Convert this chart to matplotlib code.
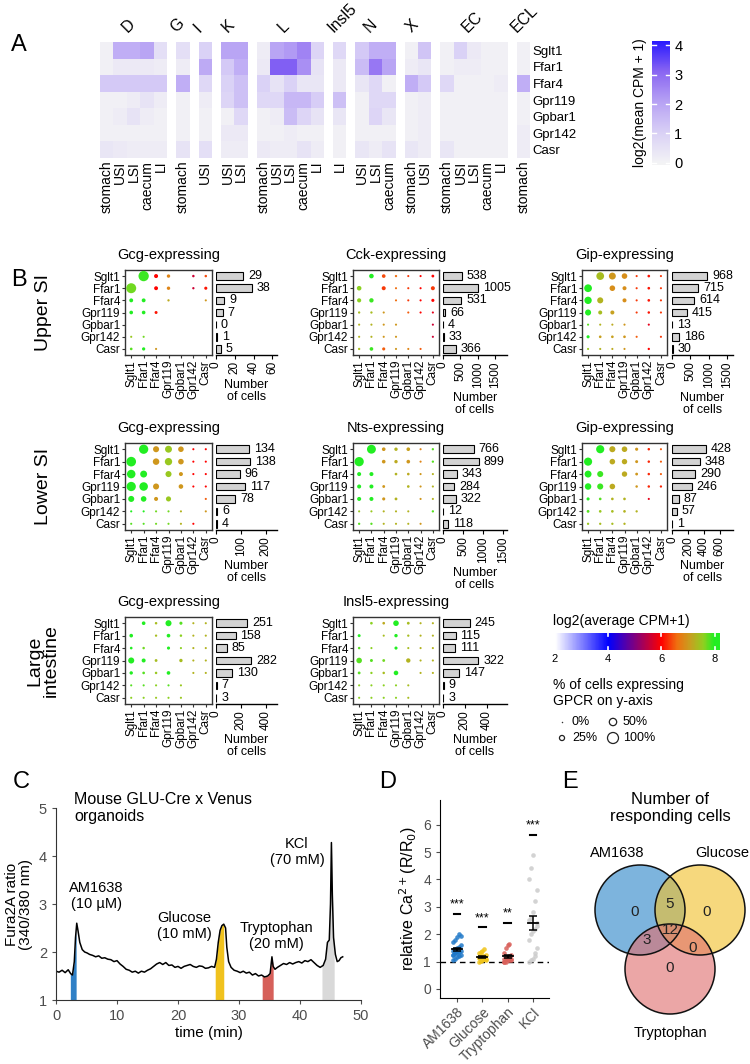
import numpy as np
import matplotlib
matplotlib.use('Agg')
import matplotlib.pyplot as plt
from matplotlib.colors import LinearSegmentedColormap
from matplotlib.patches import Circle

plt.rcParams['font.family'] = ['Liberation Sans', 'DejaVu Sans']

W, H = 750, 1064
N = np.nan

genes = ['Sglt1', 'Ffar1', 'Ffar4', 'Gpr119', 'Gpbar1', 'Gpr142', 'Casr']

# ---------------- A: heatmap data ----------------
cell_groups = ['D', 'G', 'I', 'K', 'L', 'Insl5', 'N', 'X', 'EC', 'ECL']
group_tissues = [['stomach', 'USI', 'LSI', 'caecum', 'LI'], ['stomach'], ['USI'], ['USI', 'LSI'],
                 ['stomach', 'USI', 'LSI', 'caecum', 'LI'], ['LI'], ['USI', 'LSI', 'caecum'],
                 ['stomach', 'USI'], ['stomach', 'USI', 'LSI', 'caecum', 'LI'], ['stomach']]
# log2(mean CPM + 1); rows = genes, columns in group_tissues order
heat_vals = np.array([
    [0.1, 1.8, 1.8, 2.0, 0.6, 0.6, 1.0, 2.0, 2.0, 0.2, 2.0, 2.2, 2.6, 0.9, 0.8, 1.2, 1.8, 1.8, 0.1, 1.3, 0.1, 1.0, 0.3, 0.1, 0.1, 0.1],
    [0.1, 0.3, 0.3, 0.3, 0.2, 0.2, 1.9, 1.2, 1.8, 0.3, 3.2, 3.2, 2.4, 0.5, 0.3, 1.5, 2.8, 2.0, 0.2, 0.4, 0.1, 0.2, 0.2, 0.1, 0.1, 0.1],
    [1.2, 1.2, 1.2, 1.2, 1.2, 1.8, 0.8, 1.0, 1.4, 1.0, 0.5, 1.0, 0.4, 0.4, 0.3, 0.4, 0.8, 0.1, 1.8, 1.2, 0.8, 0.1, 0.1, 0.1, 0.2, 1.8],
    [0.1, 0.1, 0.2, 0.5, 0.2, 0.1, 0.2, 0.9, 1.4, 0.8, 0.8, 1.6, 1.6, 1.1, 1.4, 0.1, 0.8, 0.8, 0.1, 0.2, 0.1, 0.1, 0.1, 0.1, 0.1, 0.1],
    [0.1, 0.2, 0.5, 0.2, 0.1, 0.1, 0.1, 0.1, 0.8, 0.1, 0.2, 1.5, 0.9, 0.5, 0.4, 0.1, 0.9, 0.4, 0.1, 0.2, 0.1, 0.1, 0.1, 0.1, 0.1, 0.1],
    [0.1, 0.1, 0.1, 0.1, 0.1, 0.1, 0.1, 0.3, 0.3, 0.1, 0.1, 0.2, 0.1, 0.1, 0.1, 0.1, 0.1, 0.1, 0.1, 0.2, 0.1, 0.1, 0.1, 0.1, 0.1, 0.2],
    [0.4, 0.3, 0.2, 0.2, 0.2, 0.5, 0.6, 0.2, 0.2, 0.3, 0.2, 0.2, 0.5, 0.2, 0.1, 0.4, 0.2, 0.5, 0.4, 0.2, 0.4, 0.1, 0.1, 0.1, 0.1, 0.2],
])

# ---------------- B: dot plot data (rows = GPCR on y, cols = GPCR on x) ----------------
usi_gcg_pct = [[N, 90, 15, 10, N, 4, 4], [85, N, 14, 10, N, 3, 8], [14, 14, N, 3, N, N, 2],
               [12, 12, 7, N, N, N, N], [N, N, N, N, N, N, N], [2, 2, N, N, N, N, N], [5, 9, 2, N, N, N, N]]
usi_gcg_expr = [[N, 7.9, 6.0, 6.8, N, 5.6, 6.4], [7.7, N, 6.0, 6.8, N, 5.6, 6.1], [8.0, 8.0, N, 7.2, N, N, 7.0],
                [8.0, 8.0, 6.1, N, N, N, N], [N] * 7, [7.5, 7.7, N, N, N, N, N], [7.8, 8.0, 7.0, N, N, N, N]]
usi_gcg_n = [29, 38, 9, 7, 0, 1, 5]

usi_cck_pct = [[N, 20, 12, 3, 2, 2, 6], [20, N, 15, 2, 2, 2, 15], [16, 18, N, 2, 2, 2, 8], [3, 3, 2, N, 2, 2, 2],
               [2, 2, 2, 2, N, N, 2], [2, 2, 2, 2, N, N, 2], [3, 12, 8, 2, 2, 2, N]]
usi_cck_expr = [[N, 8.0, 6.4, 6.6, 6.3, 6.0, 6.0], [7.6, N, 6.3, 6.6, 6.3, 6.0, 6.3], [7.6, 7.9, N, 6.6, 6.3, 6.0, 6.0],
                [7.4, 7.4, 7.0, N, 6.5, 6.0, 5.8], [7.3, 7.3, 7.0, 7.0, N, N, 5.6], [7.3, 7.3, 7.0, 7.0, N, N, 5.6],
                [7.4, 7.9, 6.5, 7.0, 6.8, 6.5, N]]
usi_cck_n = [538, 1005, 531, 66, 4, 33, 366]

usi_gip_pct = [[N, 55, 45, 30, 2, 5, 2], [55, N, 30, 15, 2, 5, 2], [50, 35, N, 15, 2, 5, 2], [35, 15, 15, N, 2, 4, 2],
               [2, 2, 2, 2, N, 2, N], [8, 5, 5, 5, 2, N, 2], [2, 2, 2, 2, N, 3, N]]
usi_gip_expr = [[N, 7.4, 7.0, 6.9, 6.3, 6.1, 6.3], [8.0, N, 6.9, 6.9, 6.3, 6.1, 6.3], [8.0, 7.3, N, 6.9, 6.3, 6.1, 6.3],
                [8.0, 7.4, 7.1, N, 6.3, 6.1, 6.3], [7.8, 7.3, 7.2, 7.0, N, 5.8, N], [8.0, 7.1, 7.1, 7.0, 6.5, N, 6.3],
                [7.5, 7.3, 7.2, 7.0, N, 6.0, N]]
usi_gip_n = [968, 715, 614, 415, 13, 186, 30]

lsi_gcg_pct = [[N, 75, 35, 45, 30, 2, 2], [80, N, 40, 50, 30, 2, 2], [65, 45, N, 35, 15, 2, 2], [75, 65, 35, N, 20, 2, 2],
               [35, 30, 15, 25, N, N, 2], [2, 2, 2, 2, 2, N, 2], [2, 2, 2, 2, 2, 2, N]]
lsi_gcg_expr = [[N, 8.0, 7.0, 7.5, 7.0, 6.0, 6.0], [8.0, N, 7.0, 7.5, 7.0, 6.0, 6.0], [8.0, 8.0, N, 7.5, 7.0, 6.0, 6.0],
                [8.0, 8.0, 7.0, N, 7.0, 6.0, 6.0], [8.0, 8.0, 7.0, 7.5, N, N, 6.5], [8.0, 8.0, 7.7, 7.7, 7.3, N, 7.0],
                [7.8, 7.8, 7.7, 7.7, 7.3, 6.0, N]]
lsi_gcg_n = [134, 138, 96, 117, 78, 6, 4]

lsi_nts_pct = [[N, 70, 12, 10, 12, 2, 3], [75, N, 12, 10, 12, 2, 3], [15, 15, N, 5, 5, 2, 2], [15, 15, 6, N, 5, 2, 2],
               [15, 15, 8, 6, N, 2, 2], [2, 2, 2, 2, 2, N, 3], [3, 3, 2, 2, 2, 2, N]]
lsi_nts_expr = [[N, 8.0, 7.0, 7.3, 7.1, 6.8, 7.8], [8.0, N, 7.0, 7.2, 7.0, 6.8, 7.8], [8.0, 8.0, N, 7.3, 7.2, 7.0, 7.3],
                [8.0, 8.0, 7.0, N, 7.3, 7.0, 7.3], [8.0, 8.0, 7.0, 7.3, N, 7.0, 7.3], [7.5, 7.5, 7.3, 7.3, 7.3, N, 7.8],
                [7.8, 7.8, 7.3, 7.3, 7.3, 7.0, N]]
lsi_nts_n = [766, 899, 343, 284, 322, 12, 118]

lsi_gip_pct = [[N, 60, 35, 30, 8, 4, 2], [60, N, 30, 28, 7, 4, 2], [45, 35, N, 28, 6, 4, 2], [40, 35, 30, N, 4, 4, 3],
               [8, 5, 5, 5, N, 2, N], [6, 5, 5, 5, 3, N, N], [3, 3, 3, 3, N, N, N]]
lsi_gip_expr = [[N, 8.0, 7.2, 7.2, 7.0, 6.2, 6.5], [8.0, N, 7.2, 7.2, 7.0, 6.2, 6.5], [8.0, 7.9, N, 7.2, 7.0, 6.2, 6.5],
                [8.0, 7.9, 7.2, N, 7.0, 6.2, 6.2], [8.0, 7.8, 7.3, 7.3, N, 5.8, N], [7.8, 7.5, 7.4, 7.3, 7.3, N, N],
                [7.5, 7.4, 7.4, 7.3, N, N, N]]
lsi_gip_n = [428, 348, 290, 246, 87, 57, 1]

li_gcg_pct = [[N, 12, 4, 35, 8, 2, 2], [12, N, 3, 12, 4, 2, 2], [5, 4, N, 8, 2, 2, 2], [35, 15, 6, N, 10, 2, 2],
              [10, 5, 4, 12, N, 2, 2], [2, 2, 2, 2, 2, N, N], [2, 2, 2, 2, 2, N, N]]
li_gcg_expr = [[N, 8.0, 7.4, 8.0, 7.8, 7.3, 7.3], [8.0, N, 7.4, 8.0, 7.6, 7.3, 7.3], [8.0, 7.7, N, 8.0, 7.6, 7.3, 7.3],
               [8.0, 8.0, 7.4, N, 7.4, 7.3, 7.3], [8.0, 7.8, 7.5, 8.0, N, 7.3, 7.3], [7.8, 7.8, 7.6, 7.8, 7.5, N, N],
               [7.6, 7.6, 7.5, 7.6, 7.5, N, N]]
li_gcg_n = [251, 158, 85, 282, 130, 7, 3]

li_insl5_pct = [[N, 5, 5, 30, 6, 2, 2], [7, N, 2, 10, 3, 2, 2], [4, 2, N, 8, 2, 2, 2], [30, 7, 6, N, 18, 2, 2],
                [6, 3, 4, 20, N, 2, 2], [2, 2, 2, 2, 2, N, N], [2, 2, 2, 2, 2, N, N]]
li_insl5_expr = [[N, 7.6, 7.2, 8.0, 7.4, 7.3, 7.3], [8.0, N, 7.4, 8.0, 7.4, 7.3, 7.3], [7.8, 7.6, N, 8.0, 7.4, 7.3, 7.3],
                 [7.8, 7.8, 7.7, N, 7.3, 7.3, 7.3], [7.8, 7.6, 7.4, 8.0, N, 7.3, 7.3], [7.6, 7.6, 7.6, 7.6, 7.4, N, N],
                 [7.6, 7.6, 7.6, 7.6, 7.4, N, N]]
li_insl5_n = [245, 115, 111, 322, 147, 9, 3]

region_names = ['Upper SI', 'Lower SI', 'Large\nintestine']
size_legend = [0, 25, 50, 100]

# ---------------- C: calcium trace ----------------
trace_t = [0, 0.5, 1, 1.5, 2, 2.4, 2.7, 3.0, 3.2, 3.4,
           3.6, 3.9, 4.3, 4.7, 5.1, 5.5, 6, 6.5, 7, 7.5,
           8, 8.5, 9, 9.5, 10, 10.5, 11, 11.5, 12, 12.5,
           13, 13.5, 14, 14.5, 15, 15.5, 16, 16.5, 17, 17.5,
           18, 18.5, 19, 19.5, 20, 20.5, 21, 21.5, 22, 22.5,
           23, 23.5, 24, 24.5, 25, 25.5, 26, 26.3, 26.6, 26.9,
           27.2, 27.5, 27.8, 28.0, 28.3, 28.7, 29.2, 29.7, 30.2, 30.7,
           31.2, 31.7, 32.2, 32.7, 33.2, 33.7, 34.2, 34.7, 35.1, 35.4,
           35.6, 35.9, 36.3, 36.8, 37.3, 37.8, 38.3, 38.8, 39.3, 39.8,
           40.3, 40.8, 41.3, 41.8, 42.3, 42.8, 43.3, 43.8, 44.2, 44.5,
           44.8, 45.0, 45.15, 45.3, 45.5, 45.8, 46.1, 46.4, 46.7, 47.0]
trace_ratio = [1.60, 1.58, 1.62, 1.57, 1.63, 1.55, 1.52, 1.80, 2.30, 2.60,
               2.45, 2.20, 2.05, 2.00, 1.98, 1.95, 1.93, 1.90, 1.92, 1.87,
               1.88, 1.85, 1.84, 1.80, 1.82, 1.75, 1.70, 1.64, 1.62, 1.58,
               1.60, 1.56, 1.60, 1.58, 1.62, 1.65, 1.70, 1.75, 1.78, 1.74,
               1.78, 1.72, 1.73, 1.68, 1.70, 1.66, 1.70, 1.72, 1.74, 1.70,
               1.68, 1.71, 1.70, 1.66, 1.67, 1.70, 1.68, 1.85, 2.20, 2.45,
               2.55, 2.58, 2.50, 2.10, 1.80, 1.68, 1.62, 1.60, 1.57, 1.60,
               1.56, 1.58, 1.52, 1.55, 1.50, 1.52, 1.48, 1.50, 1.55, 1.90,
               1.70, 1.64, 1.68, 1.72, 1.76, 1.74, 1.78, 1.75, 1.78, 1.80,
               1.77, 1.82, 1.80, 1.84, 1.78, 1.72, 1.68, 1.72, 1.85, 2.20,
               2.25, 3.00, 4.28, 3.20, 2.30, 1.95, 1.80, 1.82, 1.88, 1.90]
stim_names = ['AM1638', 'Glucose', 'Tryptophan', 'KCl']
stim_doses = ['(10 µM)', '(10 mM)', '(20 mM)', '(70 mM)']
stim_start = [2.35, 26.1, 33.8, 43.6]
stim_end = [3.3, 27.5, 35.6, 45.6]
stim_colors = ['#2f80c6', '#f0c21e', '#d6605a', '#d9d9d9']

# ---------------- D: relative Ca2+ ----------------
d_am1638 = [1.05, 1.1, 1.15, 1.2, 1.25, 1.25, 1.3, 1.3, 1.35, 1.4, 1.4, 1.45, 1.5, 1.55, 1.6, 1.7, 1.8, 1.9, 2.0, 1.95, 1.25, 1.35]
d_glucose = [1.0, 1.02, 1.05, 1.1, 1.1, 1.15, 1.15, 1.2, 1.2, 1.25, 1.3, 1.35, 1.4, 1.45, 1.05, 1.12, 1.18]
d_tryptophan = [1.0, 1.0, 1.05, 1.05, 1.1, 1.1, 1.12, 1.15, 1.2, 1.25, 1.3, 1.5, 1.6, 1.65, 1.05, 0.98]
d_kcl = [1.0, 1.05, 1.1, 1.2, 1.5, 1.8, 2.0, 2.1, 2.2, 2.4, 2.5, 2.6, 2.8, 3.2, 3.6, 4.0, 4.4, 4.9, 1.3, 2.3]
sig_y = [2.75, 2.25, 2.42, 5.62]
sig_txt = ['***', '***', '**', '***']

# ---------------- E: Venn ----------------
venn_sets = ['AM1638', 'Glucose', 'Tryptophan']
# A only, G only, T only, A&G, A&T, G&T, all
venn_counts = [0, 0, 0, 5, 3, 0, 12]

fig = plt.figure(figsize=(W / 100, H / 100), dpi=100)


def rect(x0, y0, x1, y1):
    return [x0 / W, 1 - y1 / H, (x1 - x0) / W, (y1 - y0) / H]


def ftext(x, y, s, **kw):
    return fig.text(x / W, 1 - y / H, s, **kw)


for lab, (x, y) in zip('ABCDE', [(11, 45), (11, 280), (13, 782), (379, 782), (562, 782)]):
    ftext(x, y, lab, fontsize=17, va='center', ha='left')

# ── A: heatmap ───────────────────────────────────────────────────────────────
heat_cmap = LinearSegmentedColormap.from_list(
    'heat', [(0, '#f3f3f5'), (0.25, '#d9d0f6'), (0.5, '#b7a2f4'), (0.75, '#8a66f2'), (1, '#2a1aff')])
VMAX = 4.14
axA = fig.add_axes(rect(100, 42, 530, 158))
gap = 0.667
pos, col, centers, tlabels = 0.0, 0, [], []
for g, tissues in zip(cell_groups, group_tissues):
    n = len(tissues)
    axA.pcolormesh(np.arange(n + 1) + pos, np.arange(8), heat_vals[:, col:col + n],
                   cmap=heat_cmap, vmin=0, vmax=VMAX)
    centers += list(np.arange(n) + pos + 0.5)
    tlabels += tissues
    axA.text(pos + n / 2 - 0.3, -0.4, g, rotation=45, ha='left', va='bottom',
             rotation_mode='anchor', fontsize=11.5)
    pos += n + gap
    col += n
axA.set_xlim(0, pos - gap)
axA.set_ylim(7, 0)
axA.set_xticks(centers)
axA.set_xticklabels(tlabels, rotation=90, fontsize=10)
axA.set_yticks(np.arange(7) + 0.5)
axA.set_yticklabels(genes, fontsize=9.5)
axA.yaxis.tick_right()
axA.tick_params(length=0, pad=2)
for s in axA.spines.values():
    s.set_visible(False)

cax = fig.add_axes(rect(652, 41, 670, 165))
cax.imshow(np.linspace(-0.07, VMAX, 256)[:, None], aspect='auto', cmap=heat_cmap, vmin=0, vmax=VMAX,
           extent=(0, 1, -0.07, VMAX), origin='lower')
for v in range(5):
    cax.plot([0, 0.2], [v, v], color='white', lw=1)
    cax.plot([0.8, 1], [v, v], color='white', lw=1)
cax.set_xlim(0, 1)
cax.set_ylim(-0.07, VMAX)
cax.set_xticks([])
cax.yaxis.tick_right()
cax.set_yticks(range(5))
cax.tick_params(length=0, labelsize=10.5, pad=3)
for s in cax.spines.values():
    s.set_visible(False)
ftext(640, 103, 'log2(mean CPM + 1)', rotation=90, ha='center', va='center', fontsize=10)

# ── B: dot plots ─────────────────────────────────────────────────────────────
DMIN, DMAX = 2.0, 8.2
dot_nodes = [(2, '#ffffff'), (4, '#0000ff'), (6, '#ff0000'), (6.6, '#f07010'), (7.1, '#c8a020'),
             (7.6, '#90d020'), (8, '#22ee22')]
dot_pos = [(v - DMIN) / (DMAX - DMIN) for v, _ in dot_nodes] + [1.0]
dot_cols = [c for _, c in dot_nodes] + ['#22ee22']
dot_cmap = LinearSegmentedColormap.from_list('dot', list(zip(dot_pos, dot_cols)))


def dot_s(p):
    d_px = 1.5 + 9.5 * (np.asarray(p, float) / 100) ** 0.7
    return (d_px * 0.72) ** 2


box_x = [(125, 212), (353, 439), (582, 667)]
bar_x = [(216, 277), (443, 507), (672, 733)]
row_y = [(270, 355), (443, 530), (617, 704)]

subplots = [
    (0, 0, 'Gcg-expressing', usi_gcg_pct, usi_gcg_expr, usi_gcg_n, 65, [0, 20, 40, 60]),
    (0, 1, 'Cck-expressing', usi_cck_pct, usi_cck_expr, usi_cck_n, 1850, [0, 500, 1000, 1500]),
    (0, 2, 'Gip-expressing', usi_gip_pct, usi_gip_expr, usi_gip_n, 1665, [0, 500, 1000, 1500]),
    (1, 0, 'Gcg-expressing', lsi_gcg_pct, lsi_gcg_expr, lsi_gcg_n, 245, [0, 100, 200]),
    (1, 1, 'Nts-expressing', lsi_nts_pct, lsi_nts_expr, lsi_nts_n, 1600, [0, 500, 1000, 1500]),
    (1, 2, 'Gip-expressing', lsi_gip_pct, lsi_gip_expr, lsi_gip_n, 765, [0, 200, 400, 600]),
    (2, 0, 'Gcg-expressing', li_gcg_pct, li_gcg_expr, li_gcg_n, 490, [0, 200, 400]),
    (2, 1, 'Insl5-expressing', li_insl5_pct, li_insl5_expr, li_insl5_n, 585, [0, 200, 400]),
]

for r, c, title, pct, expr, ncell, xmax, ticks in subplots:
    y0, y1 = row_y[r]
    ax = fig.add_axes(rect(box_x[c][0], y0, box_x[c][1], y1))
    pct = np.array(pct, float)
    expr = np.array(expr, float)
    yy, xx = np.mgrid[0:7, 0:7]
    ok = ~np.isnan(pct)
    ax.scatter(xx[ok], yy[ok], s=dot_s(pct[ok]), c=expr[ok], cmap=dot_cmap, vmin=DMIN, vmax=DMAX,
               linewidths=0, zorder=3)
    ax.set_xlim(-0.5, 6.5)
    ax.set_ylim(6.5, -0.5)
    ax.set_xticks(range(7))
    ax.set_xticklabels(genes, rotation=90, fontsize=8.5)
    ax.set_yticks(range(7))
    ax.set_yticklabels(genes, fontsize=8.5)
    ax.tick_params(length=2, pad=1.5, color='#333333')
    for s in ax.spines.values():
        s.set_color('#333333')
        s.set_linewidth(1)
    ftext(sum(box_x[c]) / 2, y0 - 15, title, ha='center', va='center', fontsize=10.5)

    bx = fig.add_axes(rect(bar_x[c][0], y0, bar_x[c][1], y1))
    bx.barh(range(7), ncell, height=0.62, color='#d3d3d3', edgecolor='black', linewidth=0.8)
    for i, v in enumerate(ncell):
        bx.annotate(str(v), (v, i), xytext=(3.5, 0), textcoords='offset points',
                    va='center', ha='left', fontsize=9)
    bx.set_xlim(0, xmax)
    bx.set_ylim(6.5, -0.5)
    bx.set_yticks([])
    bx.set_xticks(ticks)
    bx.set_xticklabels([str(t) for t in ticks], rotation=90, fontsize=8.5)
    bx.tick_params(axis='x', length=3, pad=1.5)
    for side in ('top', 'right', 'left'):
        bx.spines[side].set_visible(False)
    bx.spines['bottom'].set_linewidth(1)
    bx.set_xlabel('Number\nof cells', fontsize=9, labelpad=3, linespacing=1.0)
    bx.patch.set_visible(False)

for name, (y0, y1) in zip(region_names, row_y):
    ftext(43, (y0 + y1) / 2, name, rotation=90, ha='center', va='center', fontsize=14,
          multialignment='center', linespacing=1.0)

# legend for dot plots
ftext(553, 621, 'log2(average CPM+1)', fontsize=10, va='center')
gax = fig.add_axes(rect(555, 633, 720, 650))
gax.imshow(np.linspace(DMIN, DMAX, 300)[None, :], aspect='auto', cmap=dot_cmap, vmin=DMIN, vmax=DMAX,
           extent=(DMIN, DMAX, 0, 1))
for v in (4, 6, 8):
    gax.plot([v, v], [0, 0.2], color='white', lw=1.2)
    gax.plot([v, v], [0.8, 1], color='white', lw=1.2)
gax.set_xlim(DMIN, DMAX)
gax.set_ylim(0, 1)
gax.set_yticks([])
gax.set_xticks([2, 4, 6, 8])
gax.tick_params(length=0, labelsize=8, pad=3)
for s in gax.spines.values():
    s.set_visible(False)
ftext(553, 693, '% of cells expressing\nGPCR on y-axis', fontsize=10, va='center', linespacing=1.1)

# overlay axes in pixel units
ov = fig.add_axes([0, 0, 1, 1])
ov.set_xlim(0, W)
ov.set_ylim(H, 0)
ov.axis('off')
ov.patch.set_visible(False)
for k, p in enumerate(size_legend):
    lx = 562 + 51 * (k // 2)
    ly = 722 + 16 * (k % 2)
    if p == 0:
        ov.scatter([lx], [ly], s=dot_s(p), color='#333333', linewidths=0)
    else:
        ov.scatter([lx], [ly], s=dot_s(p), facecolors='none', edgecolors='#222222', linewidths=0.9)
    ov.text(lx + 10, ly, f'{p}%', va='center', ha='left', fontsize=9)

# ── C: trace ─────────────────────────────────────────────────────────────────
axC = fig.add_axes(rect(56, 808, 361, 1000))
t = np.array(trace_t)
ratio = np.array(trace_ratio)
for a, b, colr in zip(stim_start, stim_end, stim_colors):
    tt = np.linspace(a, b, 60)
    axC.fill_between(tt, 1, np.interp(tt, t, ratio), color=colr, lw=0, zorder=1)
axC.plot(t, ratio, color='black', lw=1.1, zorder=2)
axC.set_xlim(0, 50)
axC.set_ylim(1, 5)
axC.set_xticks(range(0, 51, 10))
axC.set_yticks(range(1, 6))
axC.tick_params(labelsize=10.5, colors='#4d4d4d', length=3, labelcolor='#4d4d4d')
for side in ('top', 'right'):
    axC.spines[side].set_visible(False)
axC.spines['left'].set_color('#333333')
axC.spines['bottom'].set_color('#333333')
axC.set_xlabel('time (min)', fontsize=11, labelpad=2)
axC.set_ylabel('Fura2A ratio\n(340/380 nm)', fontsize=11, labelpad=4, linespacing=1.0)
stim_xy = [(6.6, 3.17), (21.0, 2.54), (36.2, 2.33), (39.5, 4.08)]
for name, dose, (x, y) in zip(stim_names, stim_doses, stim_xy):
    axC.text(x, y, name + '\n' + dose, ha='center', va='center', fontsize=10.5, linespacing=1.15)
ftext(74, 808, 'Mouse GLU-Cre x Venus\norganoids', fontsize=11.5, va='center', ha='left', linespacing=1.15)

# ── D: relative Ca2+ ─────────────────────────────────────────────────────────
axD = fig.add_axes(rect(440, 800, 549, 998))
groups_d = [d_am1638, d_glucose, d_tryptophan, d_kcl]
dcolors = ['#1f78c8', '#f0c419', '#d9605a', '#cccccc']
axD.axhline(1, color='black', ls=(0, (4, 3)), lw=1, zorder=1)
for i, (vals, colr) in enumerate(zip(groups_d, dcolors)):
    vals = np.array(vals)
    offs = ((np.arange(len(vals)) % 5) - 2) * 0.07
    axD.scatter(i + offs, vals, s=11, color=colr, alpha=0.85, linewidths=0, zorder=2)
    m = vals.mean()
    se = vals.std(ddof=1) / np.sqrt(len(vals))
    axD.plot([i - 0.2, i + 0.2], [m, m], color='black', lw=1.3, zorder=3)
    axD.errorbar(i, m, yerr=se, color='black', lw=1.1, capsize=3, capthick=1.1, zorder=3)
    axD.plot([i - 0.13, i + 0.13], [sig_y[i], sig_y[i]], color='black', lw=1.5)
    axD.text(i, sig_y[i] + 0.12, sig_txt[i], ha='center', va='bottom', fontsize=9)
axD.set_xlim(-0.67, 3.63)
axD.set_ylim(-0.33, 6.9)
axD.set_yticks(range(7))
axD.set_xticks(range(4))
axD.set_xticklabels(stim_names, rotation=45, ha='right', rotation_mode='anchor', fontsize=9,
                    color='#4d4d4d')
axD.tick_params(labelsize=10, colors='#4d4d4d', length=3)
axD.tick_params(axis='x', pad=2)
for side in ('top', 'right'):
    axD.spines[side].set_visible(False)
axD.set_ylabel('relative Ca$^{2+}$(R/R$_0$)', fontsize=11.5, labelpad=3)

# ── E: Venn ──────────────────────────────────────────────────────────────────
ftext(670, 808, 'Number of\nresponding cells', fontsize=12, ha='center', va='center', linespacing=1.15)
venn_geom = [((640, 910), 45), ((700, 910), 45), ((670, 969), 45)]
venn_colors = ['#2e86c8', '#f2c12e', '#e07070']
for (cxy, rad), colr in zip(venn_geom, venn_colors):
    ov.add_patch(Circle(cxy, rad, facecolor=colr, alpha=0.62, lw=0))
for (cxy, rad) in venn_geom:
    ov.add_patch(Circle(cxy, rad, fill=False, edgecolor='#111111', lw=1.1))
venn_text_xy = [(635, 912), (707, 912), (670, 968), (670, 904), (647, 940), (693, 948), (670, 930)]
for (x, y), v in zip(venn_text_xy, venn_counts):
    ov.text(x, y, str(v), ha='center', va='center', fontsize=11, color='#222222')
for name, (x, y) in zip(venn_sets, [(617, 853), (722, 853), (670, 1033)]):
    ov.text(x, y, name, ha='center', va='center', fontsize=10.5)

fig.savefig('out.png', dpi=100)
